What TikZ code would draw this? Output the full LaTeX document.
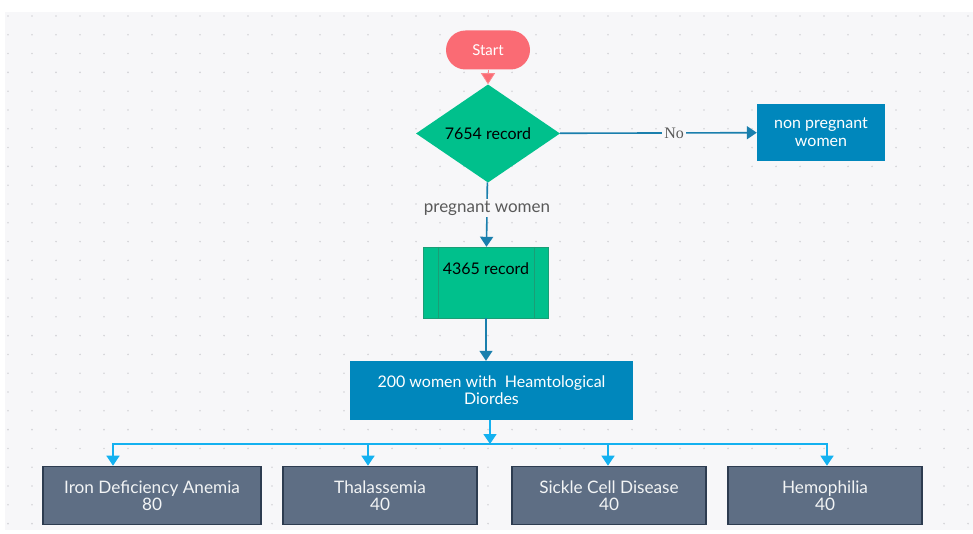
\documentclass[tikz,border=0pt]{standalone}
\usepackage{fontspec}
\setmainfont{Lato}
\newfontfamily\noserif{Liberation Serif}
\usetikzlibrary{shapes.geometric, arrows.meta}

\definecolor{canvasgrey}{HTML}{F7F7F9}
\definecolor{dotgrey}{HTML}{D4D4D8}
\definecolor{startred}{HTML}{FA6B74}
\definecolor{recgreen}{HTML}{00C08C}
\definecolor{recedge}{HTML}{1A9E76}
\definecolor{boxblue}{HTML}{0087BC}
\definecolor{linkblue}{HTML}{1A7FAD}
\definecolor{feedblue}{HTML}{14B1F0}
\definecolor{slate}{HTML}{5E6E84}
\definecolor{slateedge}{HTML}{2D3C50}

\begin{document}
\begin{tikzpicture}[x=1pt, y=-1pt,
        % Shared text settings
        every node/.style={font=\fontsize{16}{18}\selectfont, align=center},
        % Start terminal
        terminal/.style={fill=startred, text=white, font=\fontsize{15}{18}\selectfont, rounded corners=19.5, minimum width=84, minimum height=39},
        % Decision diamond
        decision/.style={diamond, fill=recgreen, inner sep=0, minimum width=144, minimum height=77},
        % Predefined process box
        procbox/.style={rectangle, fill=recgreen, draw=recedge, minimum width=125, inner sep=7, text height=20, text depth=37},
        % Blue output boxes
        bluebox/.style={fill=boxblue, text=white, inner sep=0},
        % Slate category boxes
        catbox/.style={fill=slate, draw=slateedge, line width=1.6, text=white!92!slate, font=\fontsize{17.2}{17.5}\selectfont, minimum width=218, minimum height=58, inner sep=0},
        % Line labels
        linklabel/.style={fill=canvasgrey, inner sep=2, text=black!65},
        % Connectors
        link/.style={draw=linkblue, line width=1.6, -{Triangle[width=13, length=10]}},
        feed/.style={draw=feedblue, line width=1.6, -{Triangle[width=13, length=10]}}
    ]

    % Canvas and dot grid
    \useasboundingbox (0,0) rectangle (973,534);
    \fill[white] (0,0) rectangle (973,534);
    \fill[canvasgrey] (5,12) rectangle (973,530);
    \foreach \i in {0,...,40}
        \foreach \j in {0,...,27}
            \fill[dotgrey] (8+24*\i, 16+18.8*\j) circle (0.9);

    % Top of the flow
    \node[terminal] (start) at (488,50) {Start};
    \node[decision] (records) at (488,133.5) {7654 record};
    \node[bluebox, minimum width=128, minimum height=57] (nonpreg) at (821,132.5) {non pregnant\\women};
    \node[procbox] (pregrec) at (486,282.5) {4365 record};
    \node[bluebox, font=\fontsize{16}{17}\selectfont, minimum width=283, minimum height=59] (haem) at (491.5,390.5) {200 women with\ \ Heamtological\\Diordes};

    % Bottom row - disorders
    \node[catbox] (iron) at (152,495.5) {Iron Deficiency Anemia\\80};
    \node[catbox, minimum width=194] (thal) at (380,495.5) {Thalassemia\\40};
    \node[catbox, minimum width=194] (sickle) at (609,495.5) {Sickle Cell Disease\\40};
    \node[catbox, minimum width=194] (hemo) at (825,495.5) {Hemophilia\\40};

    % Predefined process side bars
    \draw[recedge] ([xshift=15]pregrec.north west) -- ([xshift=15]pregrec.south west);
    \draw[recedge] ([xshift=-15]pregrec.north east) -- ([xshift=-15]pregrec.south east);

    % Connections
    \draw[startred!80, line width=0.8, -{Triangle[width=14, length=11, fill=startred]}] (start) -- (records);
    \draw[link] (records) -- node[linklabel, pos=0.58, font=\noserif\fontsize{16}{18}\selectfont] (nolabel) {No} (nonpreg);
    \draw[link] (records) -- node[linklabel, pos=0.4, font=\fontsize{17}{18}\selectfont] (preglabel) {pregnant women} (pregrec);
    \draw[link] (pregrec) -- (pregrec |- haem.north);

    % Split to the four groups
    \coordinate (split) at (490,444);
    \draw[feed] (haem.south -| split) -- (split);
    \foreach \grp/\dx in {iron/-39, thal/-12, sickle/-1, hemo/2}
        \draw[feed] (split) -| ([xshift=\dx]\grp.north);

\end{tikzpicture}
\end{document}
